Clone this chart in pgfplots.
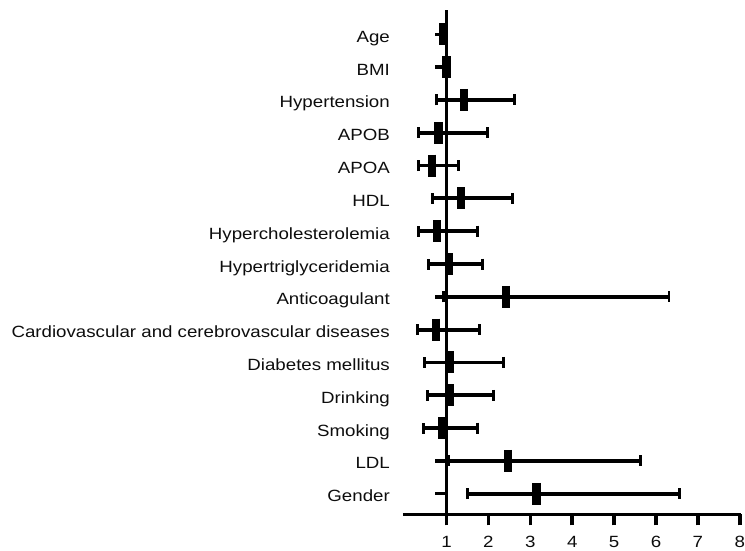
\documentclass[border=0pt]{standalone}
\usepackage{fontspec}
\setmainfont{Liberation Sans}[FakeStretch=1.15]
\usepackage{pgfplots}
\pgfplotsset{compat=1.18}
\usepackage{pgfplotstable}

\pgfplotstableread{
y est ep em
15 0.92 0.03 0.03
14 1.00 0.03 0.03
13 1.42 1.20 0.67
12 0.81 1.17 0.49
11 0.66 0.63 0.32
10 1.34 1.24 0.67
9 0.77 0.97 0.45
8 1.06 0.80 0.48
7 2.42 3.89 1.50
6 0.74 1.05 0.44
5 1.09 1.27 0.61
4 1.08 1.04 0.54
3 0.89 0.85 0.45
2 2.46 3.17 1.41
1 3.15 3.42 1.65
}\data

\begin{document}
\fontsize{16.3bp}{19bp}\selectfont
\begin{tikzpicture}
\begin{axis}[name=ax, scale only axis, width=338.5bp, height=505.8bp,
  xmin=-0.04, xmax=8.02, ymin=0.37, ymax=15.745,
  separate axis lines, axis x line=bottom, axis y line=left,
  axis line style={-, line width=3.5bp, black},
  y axis line style={draw=none},
  xtick={1,...,8}, tick align=outside, major tick length=11bp,
  xtick style={line width=3.5bp, black},
  ytick={1,...,15},
  yticklabels={Gender,LDL,Smoking,Drinking,Diabetes mellitus,Cardiovascular and cerebrovascular diseases,Anticoagulant,Hypertriglyceridemia,Hypercholesterolemia,HDL,APOA,APOB,Hypertension,BMI,Age},
  ytick style={draw=none},
  yticklabel style={anchor=base east, inner sep=0pt, xshift=-2bp, yshift=-8bp, text=black!95},
  xticklabel style={anchor=north, inner sep=0pt, yshift=-11bp, text=black!95},
  /pgf/number format/assume math mode=true,
  clip=false,
]
\draw[line width=3.5bp] (axis cs:1,0.37) -- (axis cs:1,15.745);
\pgfplotsinvokeforeach{1,...,15}{\draw[line width=3.5bp] (axis cs:1,#1) -- ++(-12bp,0pt);}
\addplot[only marks, mark=|, mark size=11bp, mark options={line width=8.3bp, black},
  error bars/.cd, x dir=both, x explicit,
  error bar style={line width=3.8bp, black},
  error mark options={rotate=90, mark size=5.5bp, line width=3bp, black}]
  table[x=est, y=y, x error plus=ep, x error minus=em] {\data};
\end{axis}
\path[use as bounding box] (ax.south west) ++(-404bp,-36.3bp) rectangle ++(745bp,552bp);
\end{tikzpicture}
\end{document}
